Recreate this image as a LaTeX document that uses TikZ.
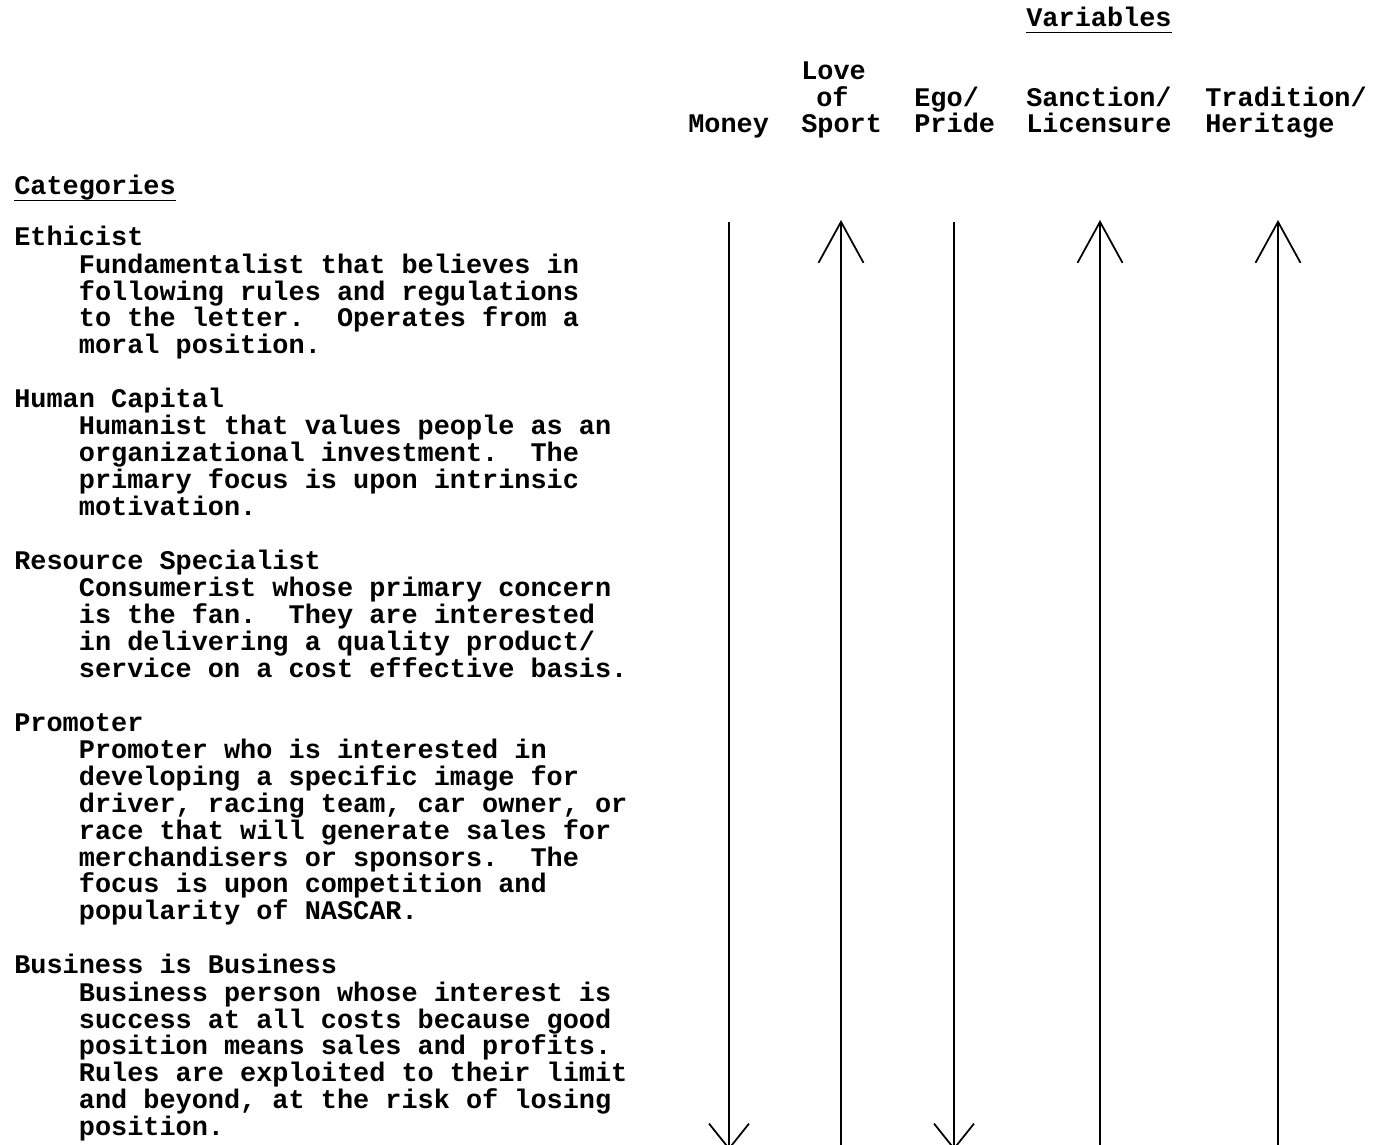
\documentclass[tikz,border=0pt]{standalone}
\usepackage{fontspec}
\usetikzlibrary{arrows.meta}
\newfontfamily\typewriter{Liberation Mono}

\begin{document}
\begin{tikzpicture}[x=0.02cm, y=-0.02cm,
		txt/.style={inner sep=0, anchor=base west, align=left,
			font=\typewriter\bfseries\fontsize{15.3pt}{15.28pt}\selectfont\frenchspacing},
		uline/.style={line width=1pt},
		axisline/.style={line width=0.7pt},
		uparrow/.style={axisline, -{Straight Barb[length=0.82cm, width=0.9cm, line width=1pt]}},
		downarrow/.style={axisline, -{Straight Barb[length=0.5cm, width=0.8cm, line width=1pt]}}]
			\useasboundingbox (0, 0) rectangle (1375, 1145);

			% heading of the variables (multi-line nodes sit on their last line)
			\node[txt] (variables) at (1026, 27)
				{Variables};
			\draw[uline]
				([yshift=-0.11cm]variables.base west) -- ([yshift=-0.11cm]variables.base east);
			\node[txt] (money) at (688, 133)
				{Money};
			\node[txt] (love) at (801, 133)
				{Love\\\hspace*{0.3cm}of\\Sport};
			\node[txt] (ego) at (914, 133)
				{Ego/\\Pride};
			\node[txt] (sanction) at (1026, 133)
				{Sanction/\\Licensure};
			\node[txt] (tradition) at (1205, 133)
				{Tradition/\\Heritage};

			% categories
			\node[txt] (categories) at (14, 195)
				{Categories};
			\draw[uline]
				([yshift=-0.11cm]categories.base west) -- ([yshift=-0.11cm]categories.base east);

			\node[txt] (ethicist) at (14, 246)
				{Ethicist};
			\node[txt] (ethicistbody) at (78.6, 353.8)
				{Fundamentalist that believes in\\
				following rules and regulations\\
				to the letter.~ Operates from a\\
				moral position.};

			\node[txt] (human) at (14, 407.7)
				{Human Capital};
			\node[txt] (humanbody) at (78.6, 515.5)
				{Humanist that values people as an\\
				organizational investment.~ The\\
				primary focus is upon intrinsic\\
				motivation.};

			\node[txt] (resource) at (14, 569.4)
				{Resource Specialist};
			\node[txt] (resourcebody) at (78.6, 677.2)
				{Consumerist whose primary concern\\
				is the fan.~ They are interested\\
				in delivering a quality product/\\
				service on a cost effective basis.};

			\node[txt] (promoter) at (14, 731.1)
				{Promoter};
			\node[txt] (promoterbody) at (78.6, 919.8)
				{Promoter who is interested in\\
				developing a specific image for\\
				driver, racing team, car owner, or\\
				race that will generate sales for\\
				merchandisers or sponsors.~ The\\
				focus is upon competition and\\
				popularity of NASCAR.};

			\node[txt] (business) at (14, 973.7)
				{Business is Business};
			\node[txt] (businessbody) at (78.6, 1135.4)
				{Business person whose interest is\\
				success at all costs because good\\
				position means sales and profits.\\
				Rules are exploited to their limit\\
				and beyond, at the risk of losing\\
				position.};

			% Money
			\coordinate (moneytop) at (729, 222);
			\coordinate (moneyend) at (729, 1150);
			\draw[downarrow]
				(moneytop) -- (moneyend);

			% Love of Sport
			\coordinate (lovetop) at (841, 220);
			\coordinate (loveend) at (841, 1150);
			\draw[uparrow]
				(loveend) -- (lovetop);

			% Ego/Pride
			\coordinate (egotop) at (954, 222);
			\coordinate (egoend) at (954, 1150);
			\draw[downarrow]
				(egotop) -- (egoend);

			% Sanction/Licensure
			\coordinate (sanctiontop) at (1100, 220);
			\coordinate (sanctionend) at (1100, 1150);
			\draw[uparrow]
				(sanctionend) -- (sanctiontop);

			% Tradition/Heritage
			\coordinate (traditiontop) at (1278, 220);
			\coordinate (traditionend) at (1278, 1150);
			\draw[uparrow]
				(traditionend) -- (traditiontop);

		\end{tikzpicture}
\end{document}
